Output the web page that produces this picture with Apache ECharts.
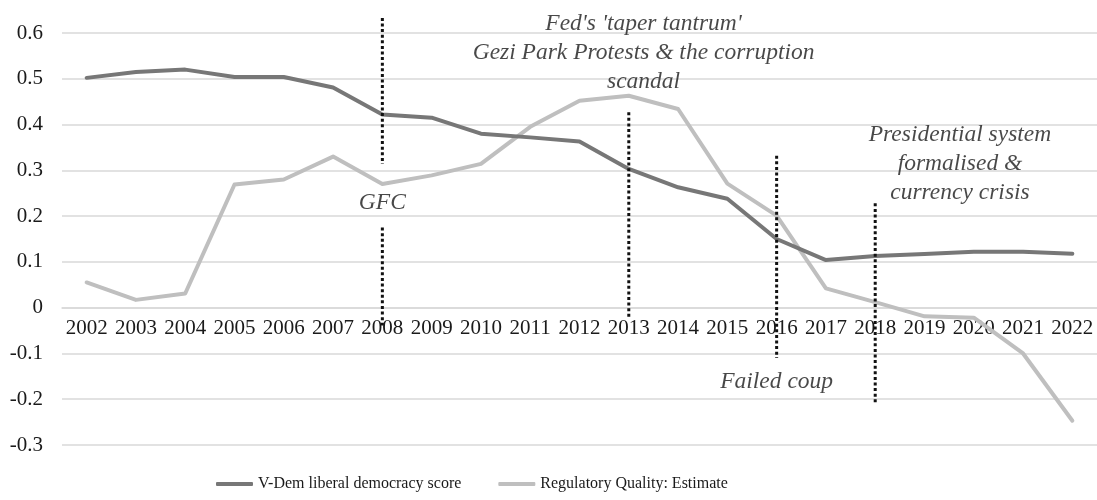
<!DOCTYPE html>
<html>
<head>
<meta charset="utf-8">
<script src="https://cdn.jsdelivr.net/npm/echarts@6/dist/echarts.min.js"></script>
<style>
html,body{margin:0;padding:0;background:#fff;}
#chart{width:1097px;height:500px;}
</style>
</head>
<body>
<div id="chart"></div>
<script>
// ---- data ----
const years = ['2002','2003','2004','2005','2006','2007','2008','2009','2010','2011','2012','2013','2014','2015','2016','2017','2018','2019','2020','2021','2022'];
const vdemName = 'V-Dem liberal democracy score';
const vdem = [0.502,0.515,0.520,0.504,0.504,0.481,0.422,0.415,0.380,0.372,0.363,0.303,0.263,0.238,0.150,0.104,0.113,0.117,0.122,0.122,0.118];
const rqName = 'Regulatory Quality: Estimate';
const rq = [0.055,0.017,0.031,0.269,0.280,0.330,0.270,0.289,0.314,0.395,0.452,0.463,0.434,0.271,0.201,0.042,0.012,-0.019,-0.022,-0.100,-0.247];
const yTicks = {min:-0.3, max:0.6, interval:0.1};
// event marker segments: [category index, value from, value to]
const eventSegments = [
  [6, 0.633, 0.314],
  [6, 0.175, -0.039],
  [11, 0.427, -0.022],
  [14, 0.332, -0.110],
  [16, 0.228, -0.209]
];
// event labels: [x position in category units, value, text]
const eventLabels = [
  [6.0, 0.229, 'GFC'],
  [11.3, 0.557, "Fed's 'taper tantrum'\nGezi Park Protests & the corruption\nscandal"],
  [14.0, -0.162, 'Failed coup'],
  [17.72, 0.314, 'Presidential system\nformalised &\ncurrency crisis']
];

// ---- chart ----
const font = 'Liberation Serif, Times New Roman, serif';
const chart = echarts.init(document.getElementById('chart'));
const gridBox = {left:62, right:-8, top:33, bottom:55, containLabel:false};
const series = [
  {name: vdemName, type:'line', data: vdem, symbol:'none', lineStyle:{color:'#777777', width:4, cap:'round', join:'round'}, itemStyle:{color:'#777777'}, z:3},
  {name: rqName, type:'line', data: rq, symbol:'none', lineStyle:{color:'#bfbfbf', width:4, cap:'round', join:'round'}, itemStyle:{color:'#bfbfbf'}, z:2}
];
eventSegments.forEach(s => {
  series.push({type:'line', xAxisIndex:1, yAxisIndex:1, data:[[s[0], s[1]], [s[0], s[2]]], symbol:'none', silent:true, clip:false,
    lineStyle:{color:'#111', width:3, type:[3,2.6]}, z:5});
});
series.push({type:'scatter', xAxisIndex:1, yAxisIndex:1, symbolSize:0, silent:true, clip:false, z:6,
  data: eventLabels.map(e => [e[0], e[1], e[2]]),
  label:{show:true, position:'inside', formatter: p => p.value[2], color:'#1a1a1a',
    fontFamily:font, fontStyle:'italic', fontSize:23.5, lineHeight:29, align:'center'}
});

chart.setOption({
  animation:false,
  backgroundColor:'#fff',
  grid:[Object.assign({}, gridBox), Object.assign({}, gridBox)],
  legend:{
    data:[vdemName, rqName], left:216, top:476, padding:0, itemWidth:37, itemHeight:4, itemGap:37,
    icon:'roundRect',
    textStyle:{fontFamily:font, fontSize:16, color:'#1a1a1a'}
  },
  xAxis:[
    {type:'category', gridIndex:0, data:years, boundaryGap:true, position:'bottom', offset:0,
      axisLine:{onZero:false, lineStyle:{color:'#d9d9d9', width:1.5}},
      axisTick:{show:false},
      axisLabel:{interval:0, margin:10, fontFamily:font, fontSize:21, color:'#1a1a1a'},
      splitLine:{show:false}},
    {type:'value', gridIndex:1, min:-0.5, max:20.5, show:false}
  ],
  yAxis:[
    {type:'value', gridIndex:0, min:yTicks.min, max:yTicks.max, interval:yTicks.interval,
      axisLine:{show:false}, axisTick:{show:false},
      axisLabel:{margin:19, fontFamily:font, fontSize:21, color:'#1a1a1a'},
      splitLine:{lineStyle:{color:'#d9d9d9', width:1.5}}},
    {type:'value', gridIndex:1, min:yTicks.min, max:yTicks.max, show:false}
  ],
  series: series
});
// move the category axis up to the value-axis zero line
const zeroY = chart.convertToPixel({yAxisIndex:0}, 0);
const bottomY = chart.convertToPixel({yAxisIndex:0}, yTicks.min);
chart.setOption({xAxis:[{offset: zeroY - bottomY}, {}]});
</script>
</body>
</html>
